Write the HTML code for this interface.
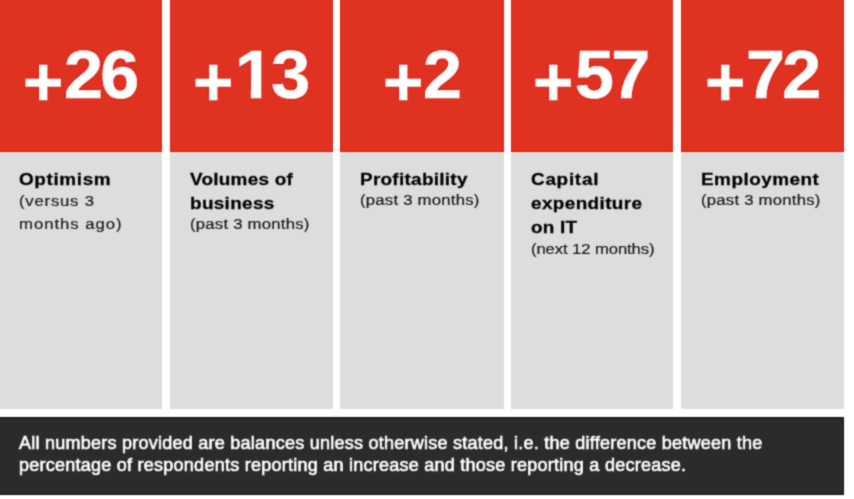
<!DOCTYPE html>
<html><head><meta charset="utf-8"><style>
html,body{margin:0;padding:0;background:#fff;width:854px;height:499px;overflow:hidden;position:relative}
#w{position:absolute;left:0;top:0;width:854px;height:499px;background:#fff;filter:url(#sb)}
.r,.g{position:absolute}
.r{top:0;height:152px;background:#e03221;box-shadow:inset -1px 0 0 #de1e08,inset 1px 0 0 #de1e08,inset 0 -1px 0 #df1d06}
.g{top:152px;height:257px;background:#dddddd}
.col{position:absolute;top:0;width:162.4px;height:408.5px}
.top{position:absolute;left:0;top:0;width:100%;height:151.5px}
.pl,.d{position:absolute;color:#fff;text-shadow:0 0 2px #d00400,0 0 2px #d00400;font-family:"Liberation Sans",Arial,sans-serif;font-weight:bold;white-space:nowrap;transform-origin:0 0}
.pl{font-size:68px;line-height:68px;top:46.8px;transform:scaleX(1.02);-webkit-text-stroke:0.6px #fff}
.d{font-size:69px;line-height:69px;top:39.5px;letter-spacing:-2.6px;transform:scaleX(1.015);-webkit-text-stroke:0.7px #fff}
.one{display:inline-block;clip-path:polygon(0 0,40px 0,40px 49.9px,26px 49.9px,26px 74px,15.6px 74px,15.6px 49.9px,0 49.9px)}
.lab{position:absolute;left:19.4px;top:168.3px;right:2px;color:#111;font-family:"Liberation Sans",Arial,sans-serif;will-change:transform;transform:scaleX(1.1);transform-origin:0 0;white-space:nowrap;text-shadow:0 0 1.5px #f4f4f4}
.lab b{display:block;font-size:17.2px;line-height:23.8px;color:#000;-webkit-text-stroke:0.3px #000}
.lab i{font-style:normal;display:block}
.lab span{display:block;font-size:15.2px;line-height:22.6px;color:#151515;-webkit-text-stroke:0.2px #151515}
.foot{position:absolute;left:0;top:416.5px;width:844px;height:78px;background:#2b2b2b;box-shadow:inset 0 1px 0 #181818,inset 0 2px 0 #222,inset -1px 0 0 #131313,inset 0 -1px 0 #131313;color:#fff;font:18px/22px "Liberation Sans",Arial,sans-serif;letter-spacing:0.25px}
.foot p{margin:0;position:absolute;left:19px;top:15px;will-change:transform;-webkit-text-stroke:0.65px #fff;text-shadow:0 0 1.5px #000}
</style></head><body>
<svg width="0" height="0" style="position:absolute"><filter id="sb" x="0" y="0" width="100%" height="100%" color-interpolation-filters="sRGB"><feConvolveMatrix order="3" kernelMatrix="0.0361 0.1178 0.0361 0.1178 0.3846 0.1178 0.0361 0.1178 0.0361" edgeMode="duplicate"/></filter></svg>
<div id="w">
<div class="r" style="left:0px;width:162.2px;box-shadow:inset -1px 0 0 #de1e08,inset 0 -1px 0 #df1d06"></div><div class="g" style="left:0px;width:162.2px"></div>
<div class="r" style="left:170.4px;width:162.3px"></div><div class="g" style="left:170.4px;width:162.3px"></div>
<div class="r" style="left:340.4px;width:163.3px"></div><div class="g" style="left:340.4px;width:163.3px"></div>
<div class="r" style="left:510.8px;width:162.7px"></div><div class="g" style="left:510.8px;width:162.7px"></div>
<div class="r" style="left:681.2px;width:162.9px"></div><div class="g" style="left:681.2px;width:162.9px"></div>
<div class="col" style="left:0"><div class="top"><span class="pl" style="left:22.7px">+</span><span class="d" style="left:64.1px">26</span></div><div class="lab"><b><i style="letter-spacing:0.58px">Optimism</i></b><span style="margin-top:-1.5px"><i style="letter-spacing:0.71px">(versus 3</i><i style="letter-spacing:0.89px">months ago)</i></span></div></div>
<div class="col" style="left:170.4px"><div class="top"><span class="pl" style="left:22.9px">+</span><span class="d" style="left:64.6px"><span class="one">1</span>3</span></div><div class="lab"><b><i style="letter-spacing:0.24px">Volumes of</i><i style="letter-spacing:0.3px">business</i></b><span style="margin-top:-2.2px"><i style="letter-spacing:0.21px">(past 3 months)</i></span></div></div>
<div class="col" style="left:340.8px"><div class="top"><span class="pl" style="left:42.1px">+</span><span class="d" style="left:82px">2</span></div><div class="lab"><b><i style="letter-spacing:0.26px">Profitability</i></b><span style="margin-top:-2.5px"><i style="letter-spacing:0.21px">(past 3 months)</i></span></div></div>
<div class="col" style="left:511.2px"><div class="top"><span class="pl" style="left:21.8px">+</span><span class="d" style="left:63.8px">57</span></div><div class="lab"><b><i style="letter-spacing:0.66px">Capital</i><i style="letter-spacing:0.35px">expenditure</i><i style="letter-spacing:0.19px">on IT</i></b><span style="margin-top:-1.3px"><i style="letter-spacing:-0.11px">(next 12 months)</i></span></div></div>
<div class="col" style="left:681.6px"><div class="top"><span class="pl" style="left:23.5px">+</span><span class="d" style="left:64.2px">72</span></div><div class="lab"><b><i style="letter-spacing:0.45px">Employment</i></b><span style="margin-top:-2.9px"><i style="letter-spacing:0.21px">(past 3 months)</i></span></div></div>
<div class="foot"><p>All numbers provided are balances unless otherwise stated, i.e. the difference between the<br>percentage of respondents reporting an increase and those reporting a decrease.</p></div>
</div>
</body></html>
